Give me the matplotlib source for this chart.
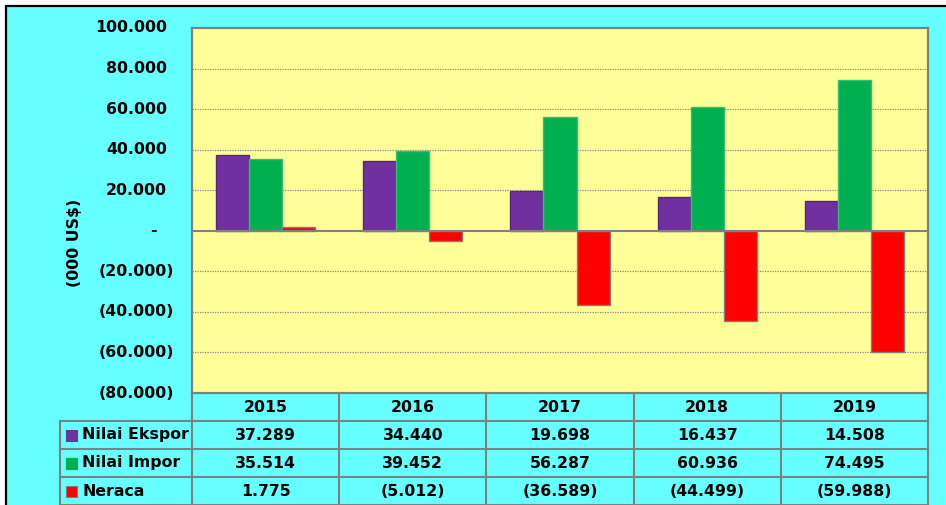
import matplotlib.pyplot as plt
import matplotlib.patches as mpatches
import numpy as np

# data
YEARS = ["2015", "2016", "2017", "2018", "2019"]
EKSPOR = [37289, 34440, 19698, 16437, 14508]
IMPOR = [35514, 39452, 56287, 60936, 74495]
NERACA = [1775, -5012, -36589, -44499, -59988]
SERIES_NAMES = ["Nilai Ekspor", "Nilai Impor", "Neraca"]
Y_TICKS = [-80000, -60000, -40000, -20000, 0, 20000, 40000, 60000, 80000, 100000]

# style
BG_COL = "#66FFFF"
PLOT_COL = "#FFFF99"
GRID_COL = "#808080"
COLS = ["#7030A0", "#00B050", "#FF0000"]
EDGES = ["#5a2585", "#33c070", "#808080"]
FONT = dict(family="DejaVu Sans", fontweight="bold", fontsize=11.3, color="black")

W, H = 946, 505


def fmt(v):
    if v == 0:
        return "-"
    s = f"{abs(v):,}".replace(",", ".")
    return f"({s})" if v < 0 else s


fig = plt.figure(figsize=(W / 100, H / 100), dpi=100, facecolor="white")

# outer cyan frame with black border (top and left visible)
fig.patches.append(mpatches.Rectangle(
    (6 / W, -0.05), 1.1, (H - 6) / H + 0.05, transform=fig.transFigure,
    facecolor=BG_COL, edgecolor="black", lw=1.6, zorder=-10))

ax = fig.add_axes([192 / W, (H - 393) / H, 736 / W, 365 / H])
ax.set_facecolor(PLOT_COL)
ax.set_xlim(-0.5, len(YEARS) - 0.5)
ax.set_ylim(-80000, 100000)

# bars
x = np.arange(len(YEARS))
bw = 0.225
for k, (vals, c, ec) in enumerate(zip([EKSPOR, IMPOR, NERACA], COLS, EDGES)):
    ax.bar(x + (k - 1) * bw, vals, width=bw, color=c, edgecolor=ec, lw=1.0, zorder=3)

# grid + zero line
for t in Y_TICKS:
    if t in (0, 100000, -80000):
        continue
    ax.axhline(t, color="#888888", lw=0.9, ls=(0, (1, 1)), zorder=1)
ax.axhline(0, color=GRID_COL, lw=1.5, zorder=4)

for s in ax.spines.values():
    s.set_color(GRID_COL)
    s.set_linewidth(1.6)
ax.set_xticks([])
ax.set_yticks([])

# y tick labels (accounting style)
ytr = ax.get_yaxis_transform()
for t in Y_TICKS:
    if t == 0:
        ax.text(-39 / 736, t, "-", transform=ytr, ha="center", va="center", **FONT)
    elif t < 0:
        ax.text(-18 / 736, t, fmt(t), transform=ytr, ha="right", va="center", **FONT)
    else:
        ax.text(-25 / 736, t, fmt(t), transform=ytr, ha="right", va="center", **FONT)

fig.text(75 / W, 1 - 243 / H, "(000 US$)", rotation=90, ha="center", va="center", **FONT)

# data table under the plot
ROW_H = 28 / 365
xtr = ax.get_xaxis_transform()
lab_left = -132 / 736
line_kw = dict(color=GRID_COL, lw=1.5, clip_on=False, zorder=5)

for i, yr in enumerate(YEARS):
    ax.text(i, -0.5 * ROW_H, yr, transform=xtr, ha="center", va="center", **FONT)
    for r, vals in enumerate([EKSPOR, IMPOR, NERACA]):
        ax.text(i, -(r + 1.5) * ROW_H, fmt(vals[i]), transform=xtr,
                ha="center", va="center", **FONT)

# horizontal table lines
for r in range(1, 5):
    ax.plot([lab_left, 1], [-r * ROW_H] * 2, transform=ax.transAxes, **line_kw)
# vertical table lines
for b in np.arange(len(YEARS) + 1) - 0.5:
    ax.plot([b, b], [0, -4 * ROW_H], transform=xtr, **line_kw)
ax.plot([lab_left, lab_left], [-ROW_H, -4 * ROW_H], transform=ax.transAxes, **line_kw)

# row labels with legend keys
for r, (name, c) in enumerate(zip(SERIES_NAMES, COLS)):
    yc = -(r + 1.5) * ROW_H
    sq = 11 / 365
    ax.add_patch(mpatches.Rectangle(
        (-126 / 736, yc - sq / 2 - 0.002), 11 / 736, sq, transform=ax.transAxes,
        facecolor=c, edgecolor="#808080" if r == 2 else c, lw=0.8, clip_on=False))
    ax.text(-110 / 736, yc, name, transform=ax.transAxes, ha="left", va="center", **FONT)

fig.savefig("out.png", dpi=100, facecolor=fig.get_facecolor())
